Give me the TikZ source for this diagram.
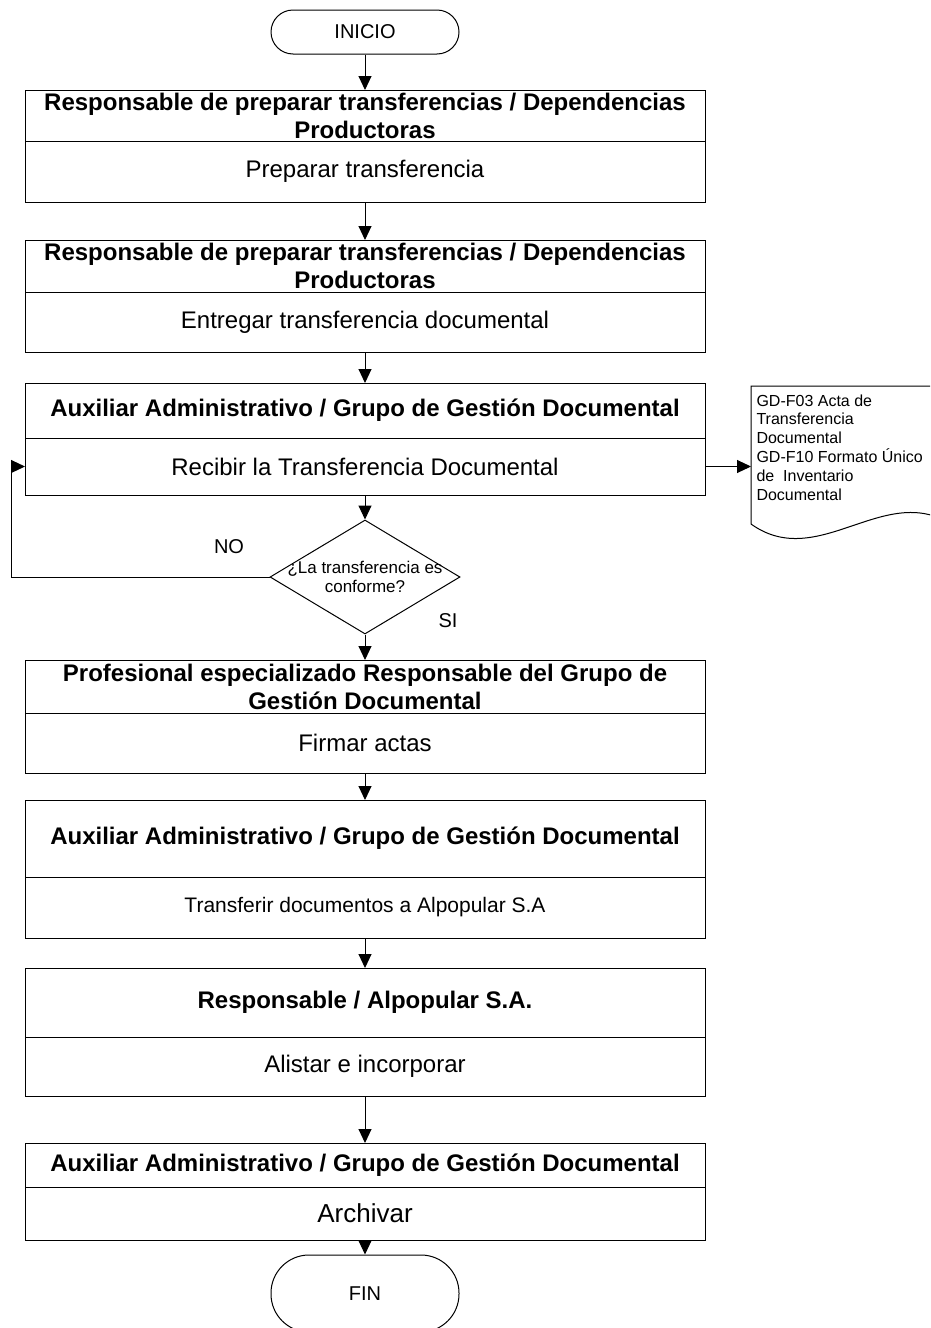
\documentclass[tikz,border=0pt]{standalone}
\usepackage{fontspec}
\setmainfont{Liberation Sans}
\usetikzlibrary{arrows.meta,shapes.geometric}
\begin{document}
\begin{tikzpicture}[x=1pt,y=-1pt,line width=1pt,
 hdr/.style={draw, anchor=north, minimum width=680pt, inner sep=0pt, outer sep=0pt, align=center, font=\fontsize{24}{28}\selectfont\bfseries},
 bdy/.style={draw, anchor=north, minimum width=680pt, inner sep=0pt, outer sep=0pt, align=center, font=\fontsize{24}{28}\selectfont},
 term/.style={draw, minimum width=188pt, inner sep=0pt, font=\fontsize{20}{24}\selectfont},
 arr/.style={-{Triangle[width=13pt,length=14pt]}},
 lbl/.style={inner sep=0pt, font=\fontsize{20}{24}\selectfont}]
\useasboundingbox (0,0) rectangle (930,1328);
\clip (0,0) rectangle (930,1328);
\node[term, rounded corners=22pt, minimum height=44pt] (ini) at (365,32) {INICIO};
\node[hdr, minimum height=51pt] (h1) at (365,90) {Responsable de preparar transferencias / Dependencias\\Productoras};
\node[bdy, minimum height=61pt] (b1) at (h1.south) {Preparar transferencia};
\node[hdr, minimum height=52pt] (h2) at (365,240) {Responsable de preparar transferencias / Dependencias\\Productoras};
\node[bdy, minimum height=60pt] (b2) at (h2.south) {Entregar transferencia documental};
\node[hdr, minimum height=55pt] (h3) at (365,383) {Auxiliar Administrativo / Grupo de Gestión Documental};
\node[bdy, minimum height=57pt] (b3) at (h3.south) {Recibir la Transferencia Documental};
\node[draw, diamond, minimum width=190pt, minimum height=114pt, inner sep=0pt] (dec) at (365,577) {};
\node[inner sep=0pt, align=center, font=\fontsize{17}{19.5}\selectfont] (dect) at (dec.center) {¿La transferencia es\\conforme?};
\node[hdr, minimum height=53pt] (h4) at (365,660) {Profesional especializado Responsable del Grupo de\\Gestión Documental};
\node[bdy, minimum height=60pt] (b4) at (h4.south) {Firmar actas};
\node[hdr, minimum height=77pt] (h5) at (365,800) {Auxiliar Administrativo / Grupo de Gestión Documental};
\node[bdy, minimum height=61pt, font=\fontsize{21}{25}\selectfont] (b5) at (h5.south) {Transferir documentos a Alpopular S.A};
\node[hdr, minimum height=69pt] (h6) at (365,968) {Responsable / Alpopular S.A.};
\node[bdy, minimum height=59pt] (b6) at (h6.south) {Alistar e incorporar};
\node[hdr, minimum height=44pt] (h7) at (365,1143) {Auxiliar Administrativo / Grupo de Gestión Documental};
\node[bdy, minimum height=53pt, font=\fontsize{26}{30}\selectfont] (b7) at (h7.south) {Archivar};
\node[term, rounded corners=38pt, minimum height=77pt] (fin) at (365,1293.5) {FIN};
% document
\draw (751,524) -- (751,386) -- (951,386) -- (951,524) .. controls (884,482) and (818,572) .. (751,524) -- cycle;
\node[anchor=north west, inner sep=0pt, align=left, font=\fontsize{16}{18.8}\selectfont] (doc) at (756,394) {GD-F03 Acta de\\Transferencia\\Documental\\GD-F10 Formato Único\\de~ Inventario\\Documental};
\coordinate (dl) at (751,0);
\coordinate (lp) at (11,577);
\node[lbl] (no) at (229,547) {NO};
\node[lbl] (si) at (448,621) {SI};
% connectors
\draw[arr] (ini.south) -- (h1.north);
\draw[arr] (b1.south) -- (h2.north);
\draw[arr] (b2.south) -- (h3.north);
\draw[arr] (b3.south) -- (dec.north);
\draw[arr] (b3.east) -- (b3.east -| dl);
\draw[arr] (dec.west) -- (lp) |- (b3.west);
\draw[arr] (dec.south) -- (h4.north);
\draw[arr] (b4.south) -- (h5.north);
\draw[arr] (b5.south) -- (h6.north);
\draw[arr] (b6.south) -- (h7.north);
\draw[arr] (b7.south) -- (fin.north);
\end{tikzpicture}
\end{document}
